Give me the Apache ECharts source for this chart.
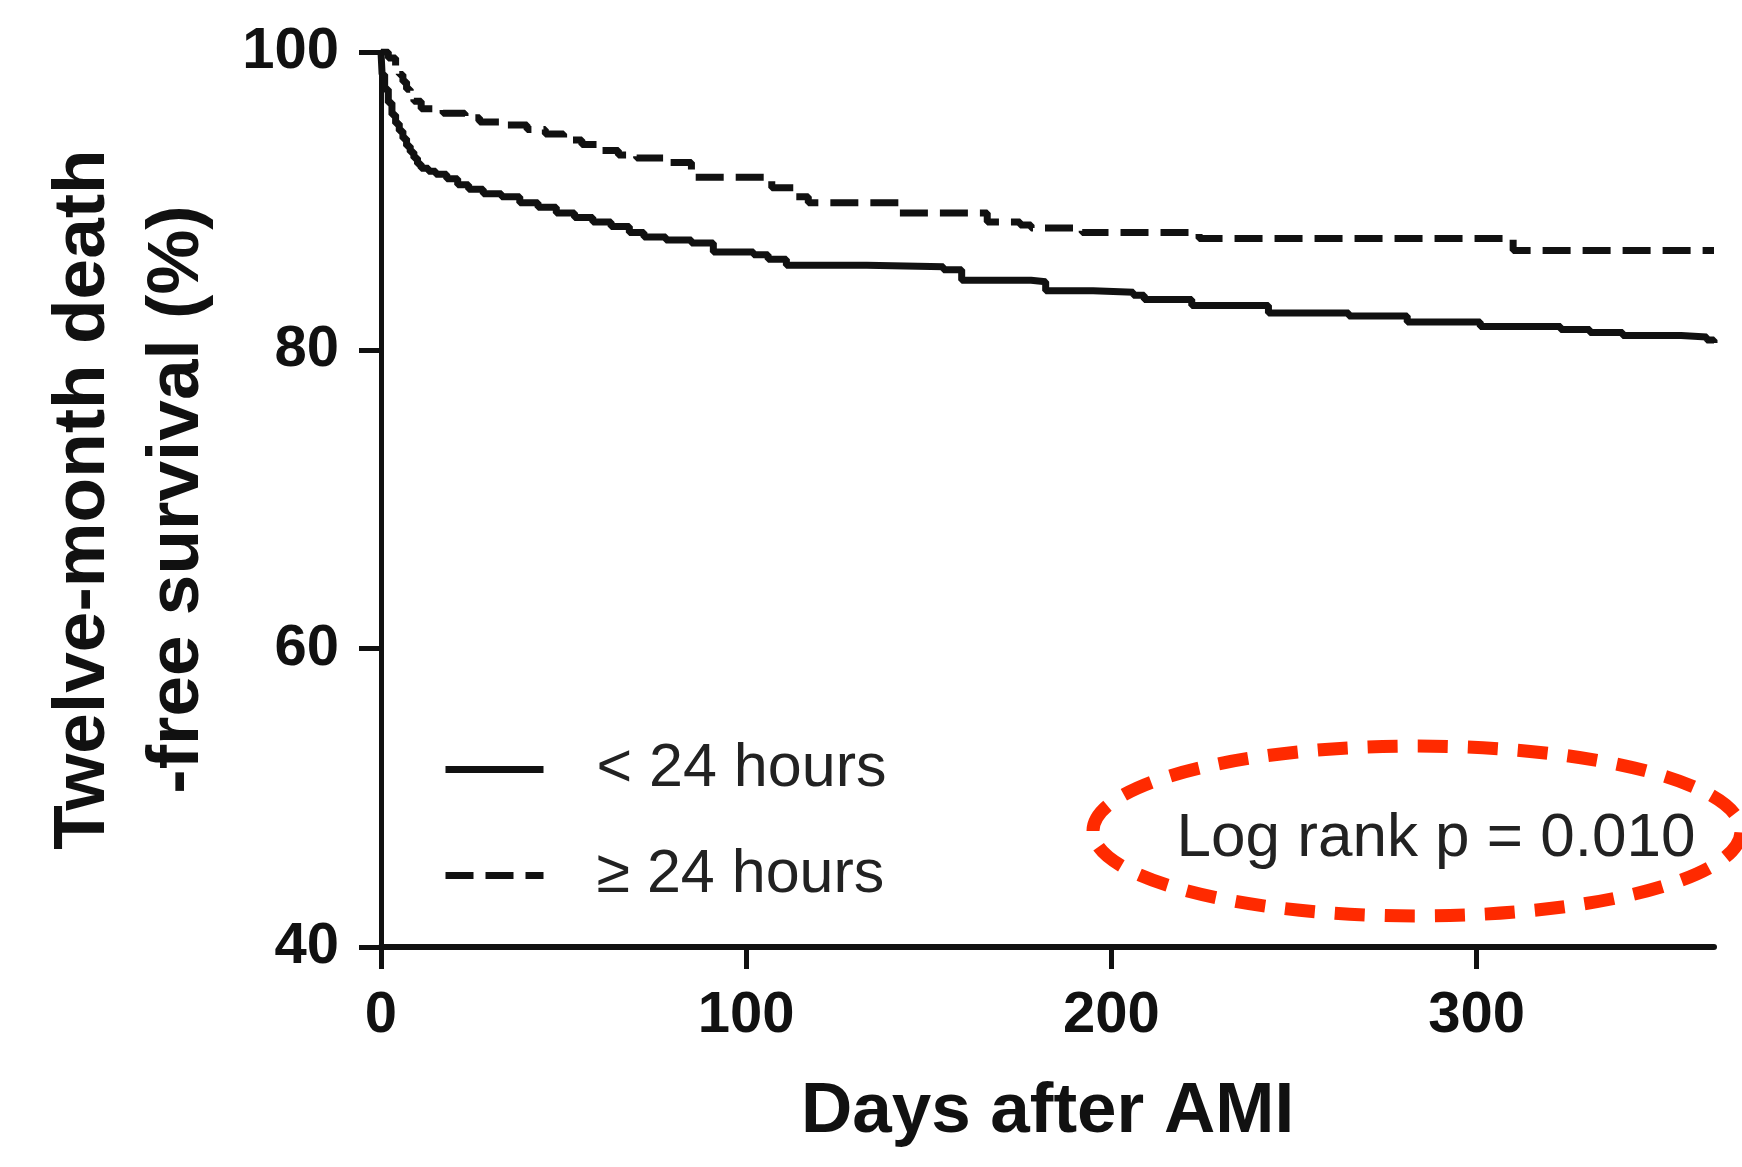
<!DOCTYPE html>
<html>
<head>
<meta charset="utf-8">
<title>Twelve-month death-free survival</title>
<script src="https://cdn.jsdelivr.net/npm/echarts@6.0.0/dist/echarts.min.js"></script>
<style>
  body {
    margin: 0;
    padding: 0;
    background: #fff;
  }
  #chart {
    width: 1742px;
    height: 1167px;
  }
</style>
</head>
<body>
<div id="chart"></div>
<script>
// tick labels
const xTicks = [0, 100, 200, 300]
const yTicks = [40, 60, 80, 100]

// < 24 hours (solid)
const earlyDays = [0, 0.3, 1, 2, 3, 4, 5, 6, 7, 8, 9, 10, 11, 13, 15, 18, 21, 24, 28, 33, 38, 43, 48, 53, 58, 63, 68, 72, 78, 85, 91, 102, 106, 111, 133, 154, 159, 178, 182, 195, 206, 209, 222, 243, 265, 281, 301, 323, 331, 340, 356, 363, 365]
const earlySurv = [100, 98.5, 97.5, 96.6, 95.8, 95.2, 94.7, 94.2, 93.7, 93.3, 92.9, 92.5, 92.2, 92.0, 91.8, 91.5, 91.1, 90.8, 90.5, 90.3, 89.9, 89.6, 89.2, 88.9, 88.6, 88.3, 87.9, 87.6, 87.4, 87.2, 86.6, 86.4, 86.1, 85.7, 85.6, 85.4, 84.7, 84.6, 84.0, 83.9, 83.7, 83.4, 83.0, 82.5, 82.3, 81.9, 81.6, 81.4, 81.2, 81.0, 80.9, 80.7, 80.5]

// >= 24 hours (dashed)
const lateDays = [0, 2, 4, 5, 6, 7, 8, 9, 11, 17, 23, 27, 33, 40, 45, 50, 55, 60, 65, 70, 79, 85, 107, 113, 117, 142, 166, 175, 178, 192, 224, 310, 365]
const lateSurv = [100, 99.6, 99.0, 98.5, 98.0, 97.5, 97.1, 96.7, 96.2, 95.9, 95.6, 95.3, 95.1, 94.8, 94.5, 94.1, 93.8, 93.4, 93.1, 92.9, 92.6, 91.6, 90.9, 90.3, 89.9, 89.2, 88.6, 88.4, 88.2, 87.9, 87.5, 86.7, 86.7]

const groups = ['< 24 hours', '≥ 24 hours']

const zip = (xs, ys) => xs.map((x, i) => [x, ys[i]])

const font = 'Liberation Sans, Arial, Helvetica, sans-serif'

const chart = echarts.init(document.getElementById('chart'))

chart.setOption({
  animation: false,
  backgroundColor: '#fff',
  grid: {
    left: 381,
    right: 28,
    top: 52,
    bottom: 220
  },
  legend: {
    orient: 'vertical',
    left: 437,
    top: 734,
    itemWidth: 98,
    itemHeight: 10,
    itemGap: 45,
    data: groups,
    itemStyle: { opacity: 0 },
    lineStyle: { width: 7 },
    textStyle: {
      fontFamily: font,
      fontSize: 61,
      lineHeight: 60,
      color: '#222',
      padding: [0, 0, 0, 48]
    }
  },
  xAxis: {
    type: 'value',
    min: 0,
    max: 365,
    interval: 100,
    name: 'Days after AMI',
    nameLocation: 'middle',
    nameGap: 130,
    nameTextStyle: {
      fontFamily: font,
      fontSize: 71,
      fontWeight: 'bold',
      color: '#111'
    },
    axisLine: {
      lineStyle: { color: '#111', width: 6 }
    },
    axisTick: {
      length: 22,
      customValues: xTicks,
      lineStyle: { color: '#111', width: 5 }
    },
    axisLabel: {
      margin: 40,
      customValues: xTicks,
      fontFamily: font,
      fontSize: 58,
      fontWeight: 'bold',
      color: '#111'
    },
    splitLine: { show: false }
  },
  yAxis: {
    type: 'value',
    min: 40,
    max: 100,
    interval: 20,
    name: 'Twelve-month death\n-free survival (%)',
    nameLocation: 'middle',
    nameGap: 156,
    nameTextStyle: {
      fontFamily: font,
      fontSize: 73,
      fontWeight: 'bold',
      lineHeight: 94,
      color: '#111'
    },
    axisLine: {
      show: true,
      lineStyle: { color: '#111', width: 5 }
    },
    axisTick: {
      show: true,
      length: 22,
      customValues: yTicks,
      lineStyle: { color: '#111', width: 5 }
    },
    axisLabel: {
      margin: 42,
      customValues: yTicks,
      fontFamily: font,
      fontSize: 58,
      fontWeight: 'bold',
      color: '#111'
    },
    splitLine: { show: false }
  },
  series: [
    {
      name: groups[0],
      type: 'line',
      step: 'end',
      symbol: 'none',
      data: zip(earlyDays, earlySurv),
      lineStyle: { color: '#111', width: 7 },
      itemStyle: { color: '#111' }
    },
    {
      name: groups[1],
      type: 'line',
      step: 'end',
      symbol: 'none',
      data: zip(lateDays, lateSurv),
      lineStyle: { color: '#111', width: 7, type: [28, 12] },
      itemStyle: { color: '#111' }
    }
  ],
  graphic: [
    {
      type: 'ellipse',
      shape: { cx: 1417, cy: 831, rx: 324, ry: 85 },
      style: {
        fill: 'none',
        stroke: '#ff2a00',
        lineWidth: 13,
        lineDash: [30, 20]
      }
    },
    {
      type: 'text',
      x: 1436,
      y: 839,
      style: {
        text: 'Log rank p = 0.010',
        fontFamily: font,
        fontSize: 62,
        fill: '#222',
        align: 'center',
        verticalAlign: 'middle',
        textAlign: 'center',
        textVerticalAlign: 'middle'
      }
    }
  ]
})
</script>
</body>
</html>
